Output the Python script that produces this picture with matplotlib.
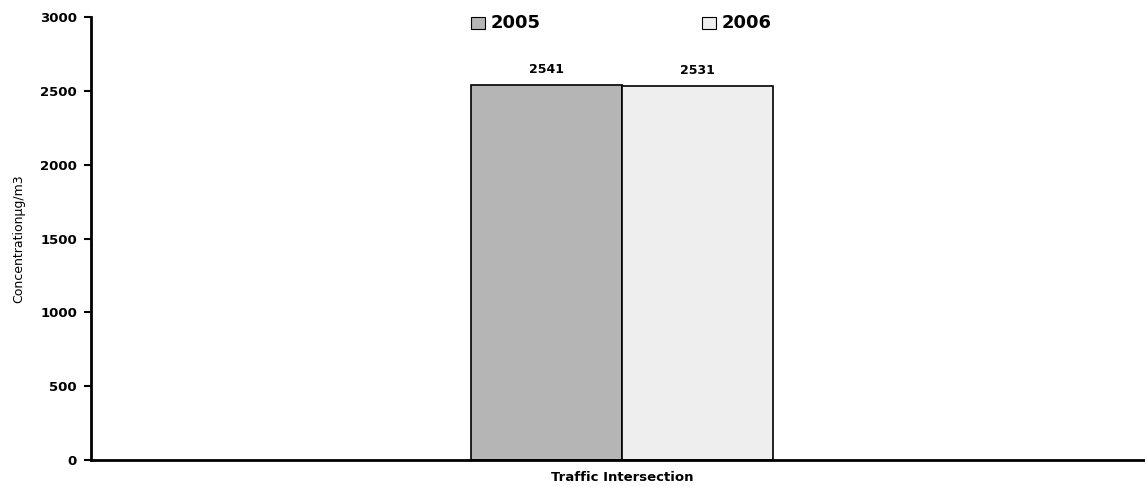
import matplotlib
matplotlib.use("Agg")
import matplotlib.pyplot as plt

categories = ["Traffic Intersection"]
series_names = ["2005", "2006"]
values_2005 = [2541]
values_2006 = [2531]
yticks = [0, 500, 1000, 1500, 2000, 2500, 3000]

plt.rcParams['font.family'] = ['DejaVu Sans']

fig = plt.figure(figsize=(11.45, 4.87), dpi=100)
ax = fig.add_axes([91/1145, 27/487, 1 - 91/1145, 443/487])

w = 0.1433
off = 0.004
colors = ["#b5b5b5", "#eeeeee"]
b1 = ax.bar([0 + off - w/2], values_2005, width=w, color=colors[0], edgecolor="black", linewidth=1.2, zorder=2)
b2 = ax.bar([0 + off + w/2], values_2006, width=w, color=colors[1], edgecolor="black", linewidth=1.2, zorder=2)

for bars, vals in ((b1, values_2005), (b2, values_2006)):
    for r, v in zip(bars, vals):
        ax.text(r.get_x() + r.get_width()/2, v + 60, f"{v}", ha="center", va="bottom",
                fontsize=9, fontweight="bold")

ax.set_xlim(-0.5, 0.5)
ax.set_ylim(0, 3000)
ax.set_yticks(yticks)
ax.set_yticklabels([str(t) for t in yticks], fontsize=9.5, fontweight="bold")
ax.set_xticks([0 + off])
ax.set_xticklabels(categories, fontsize=9.5, fontweight="bold")
ax.tick_params(axis="x", length=0, pad=8)
ax.tick_params(axis="y", length=5, width=1.5, direction="out", pad=5)
ax.spines["top"].set_visible(False)
ax.spines["right"].set_visible(False)
ax.spines["left"].set_linewidth(2)
ax.spines["bottom"].set_linewidth(2)
ax.set_ylabel("Concentrationμg/m3", fontsize=9, labelpad=12)
ax.yaxis.set_label_coords(-66/1054, 0.5)

# legend
for x0, c, name in ((471, colors[0], series_names[0]), (702, colors[1], series_names[1])):
    fig.patches.append(plt.Rectangle((x0/1145, 1 - 29/487), 14/1145, 12/487, transform=fig.transFigure,
                                     facecolor=c, edgecolor="black", linewidth=0.8))
    fig.text((x0 + 20)/1145, 1 - 23/487, name, fontsize=13, fontweight="bold", va="center", ha="left")

fig.savefig("out.png", dpi=100)
